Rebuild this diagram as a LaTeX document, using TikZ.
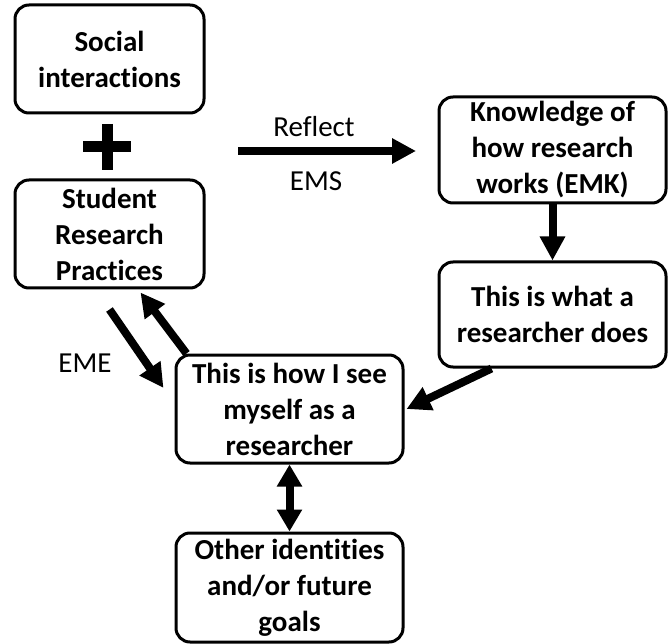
\documentclass[tikz,border=0pt]{standalone}
\usepackage{fontspec}
\setmainfont{Carlito}[Ligatures={NoCommon}]
\usetikzlibrary{arrows.meta}

\begin{document}
\begin{tikzpicture}[x=1pt,y=-1pt,
	box node/.style={rectangle, rounded corners=14pt, draw, line width=3pt, align=center, inner sep=0pt, font=\fontsize{29}{36}\selectfont\bfseries},
	big arrow/.style={line width=8pt, -{Triangle[width=24pt,length=24pt]}},
	label node/.style={font=\fontsize{29}{36}\selectfont}]
	\useasboundingbox (0,0) rectangle (669,644);
	% Boxes
	\node[box node, minimum width=189pt, minimum height=108pt] (social) at (109.5,59) {Social\\interactions};
	\node[box node, minimum width=189pt, minimum height=108pt] (practices) at (109.5,234) {Student\\Research\\Practices};
	\node[box node, minimum width=227pt, minimum height=106pt] (knowledge) at (552.5,150) {Knowledge of\\how research\\works (EMK)};
	\node[box node, minimum width=227pt, minimum height=105pt] (does) at (552.5,314.5) {This is what a\\researcher does};
	\node[box node, minimum width=227pt, minimum height=108pt] (myself) at (289.5,409) {This is how I see\\myself as a\\researcher};
	\node[box node, minimum width=227pt, minimum height=109pt] (goals) at (289.5,587.5) {Other identities\\and/or future\\goals};
	
	% plus sign
	\draw[line width=11pt] (83,147) -- (131,147) (107,124) -- (107,170);
	
	% reflect arrow
	\coordinate (reflectS) at (238,151);
	\coordinate (reflectE) at (416,151);
	\draw[big arrow] (reflectS) -- (reflectE);
	\node[label node] (reflect) at (314,127) {Reflect};
	\node[label node] (ems) at (316,181) {EMS};
	
	% connectors
	\draw[big arrow] (knowledge) -- (does);
	\draw[big arrow] ([xshift=54pt]does.south west) -- ([xshift=2pt]myself.east);
	\draw[big arrow] ([yshift=-20pt]practices.south) -- ([xshift=-11pt,yshift=21pt]myself.west);
	\draw[big arrow] ([xshift=12pt]myself.north west) -- ([xshift=31pt,yshift=-3pt]practices.south);
	\draw[line width=8pt, {Triangle[width=24pt,length=22pt]}-{Triangle[width=24pt,length=22pt]}] (myself) -- (goals);
	\node[label node] (eme) at (85,363) {EME};
\end{tikzpicture}
\end{document}
